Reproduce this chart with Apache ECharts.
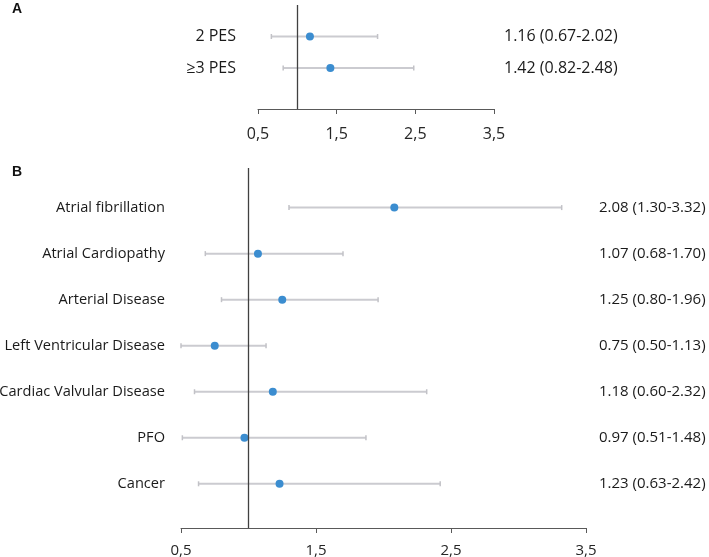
<!DOCTYPE html>
<html><head><meta charset="utf-8">
<script src="https://cdn.jsdelivr.net/npm/echarts@6/dist/echarts.min.js"></script>
<style>html,body{margin:0;padding:0;background:#fff}#c{width:709px;height:557px}</style>
</head><body><div id="c"></div>
<script>
// Panel A
const catsA = ['2 PES', '≥3 PES'];
const estA = [1.16, 1.42];
const lowA = [0.67, 0.82];
const highA = [2.02, 2.48];
const textA = ['1.16 (0.67-2.02)', '1.42 (0.82-2.48)'];
// Panel B
const catsB = ['Atrial fibrillation', 'Atrial Cardiopathy', 'Arterial Disease', 'Left Ventricular Disease', 'Cardiac Valvular Disease', 'PFO', 'Cancer'];
const estB = [2.08, 1.07, 1.25, 0.75, 1.18, 0.97, 1.23];
const lowB = [1.30, 0.68, 0.80, 0.50, 0.60, 0.51, 0.63];
const highB = [3.32, 1.70, 1.96, 1.13, 2.32, 1.87, 2.42];
const textB = ['2.08 (1.30-3.32)', '1.07 (0.68-1.70)', '1.25 (0.80-1.96)', '0.75 (0.50-1.13)', '1.18 (0.60-2.32)', '0.97 (0.51-1.48)', '1.23 (0.63-2.42)'];
const xTicks = [0.5, 1.5, 2.5, 3.5];

const FONT = 'Open Sans';
const rowsA = catsA.map((c, i) => i + 1);
const rowsB = catsB.map((c, i) => i + 1);

function xAxisCfg(gridIndex, fontSize, margin) {
  return {
    type: 'value', gridIndex, min: 0.5, max: 3.5, interval: 1,
    axisLine: { show: true, onZero: false, lineStyle: { color: '#595959', width: 1 } },
    axisTick: { show: true, length: 5, inside: false, lineStyle: { color: '#595959' } },
    splitLine: { show: false },
    axisLabel: { margin, fontFamily: FONT, fontSize, color: '#262626',
      formatter: v => xTicks.includes(+v.toFixed(1)) ? String(v.toFixed(1)).replace('.', ',') : '' }
  };
}
function yAxisCfg(gridIndex, min, max, rows, names, pos, margin, fontSize) {
  return {
    type: 'value', gridIndex, min, max, inverse: true, position: pos,
    axisLine: { show: false }, axisTick: { show: false }, splitLine: { show: false },
    axisLabel: { customValues: rows, margin, fontFamily: FONT, fontSize, color: '#1a1a1a',
      formatter: v => names[Math.round(v) - 1] || '' }
  };
}
function errRender(params, api) {
  const y = api.value(2);
  const p1 = api.coord([api.value(0), y]);
  const p2 = api.coord([api.value(1), y]);
  const st = { stroke: '#cbcbd0', lineWidth: 2 };
  return { type: 'group', children: [
    { type: 'line', shape: { x1: p1[0], y1: p1[1], x2: p2[0], y2: p2[1] }, style: st },
    { type: 'line', shape: { x1: p1[0], y1: p1[1] - 2.5, x2: p1[0], y2: p1[1] + 2.5 }, style: { stroke: '#c2c2c7', lineWidth: 1.5 } },
    { type: 'line', shape: { x1: p2[0], y1: p2[1] - 2.5, x2: p2[0], y2: p2[1] + 2.5 }, style: { stroke: '#c2c2c7', lineWidth: 1.5 } }
  ]};
}
const refLine = { silent: true, symbol: 'none', label: { show: false },
  lineStyle: { color: '#404040', width: 1.3, type: 'solid' }, data: [{ xAxis: 1 }] };

const chart = echarts.init(document.getElementById('c'));
chart.setOption({
  animation: false,
  backgroundColor: '#fff',
  graphic: [
    { type: 'text', left: 12, top: 2, style: { text: 'A', font: 'bold 14px Liberation Sans', fill: '#111' } },
    { type: 'text', left: 12, top: 165, style: { text: 'B', font: 'bold 14px Liberation Sans', fill: '#111' } }
  ],
  grid: [
    { left: 258, right: 215, top: 5, bottom: 448, containLabel: false, outerBoundsMode: 'none' },
    { left: 181, right: 123, top: 168, bottom: 29, containLabel: false, outerBoundsMode: 'none' }
  ],
  xAxis: [xAxisCfg(0, 16, 17), xAxisCfg(1, 15, 15)],
  yAxis: [
    yAxisCfg(0, 0, 3.3, rowsA, catsA, 'left', 22, 16),
    yAxisCfg(0, 0, 3.3, rowsA, textA, 'right', 10, 16),
    yAxisCfg(1, 0.14, 7.96, rowsB, catsB, 'left', 16, 14.6),
    yAxisCfg(1, 0.14, 7.96, rowsB, textB, 'right', 13, 15)
  ],
  series: [
    { type: 'custom', xAxisIndex: 0, yAxisIndex: 0, renderItem: errRender, encode: { x: [0, 1], y: 2 },
      data: rowsA.map((r, i) => [lowA[i], highA[i], r]), z: 2 },
    { type: 'scatter', xAxisIndex: 0, yAxisIndex: 0, symbolSize: 8, itemStyle: { color: '#3b8dd0', opacity: 1 },
      data: rowsA.map((r, i) => [estA[i], r]), markLine: refLine, z: 3 },
    { type: 'custom', xAxisIndex: 1, yAxisIndex: 2, renderItem: errRender, encode: { x: [0, 1], y: 2 },
      data: rowsB.map((r, i) => [lowB[i], highB[i], r]), z: 2 },
    { type: 'scatter', xAxisIndex: 1, yAxisIndex: 2, symbolSize: 8, itemStyle: { color: '#3b8dd0', opacity: 1 },
      data: rowsB.map((r, i) => [estB[i], r]), markLine: refLine, z: 3 }
  ]
});
</script></body></html>
